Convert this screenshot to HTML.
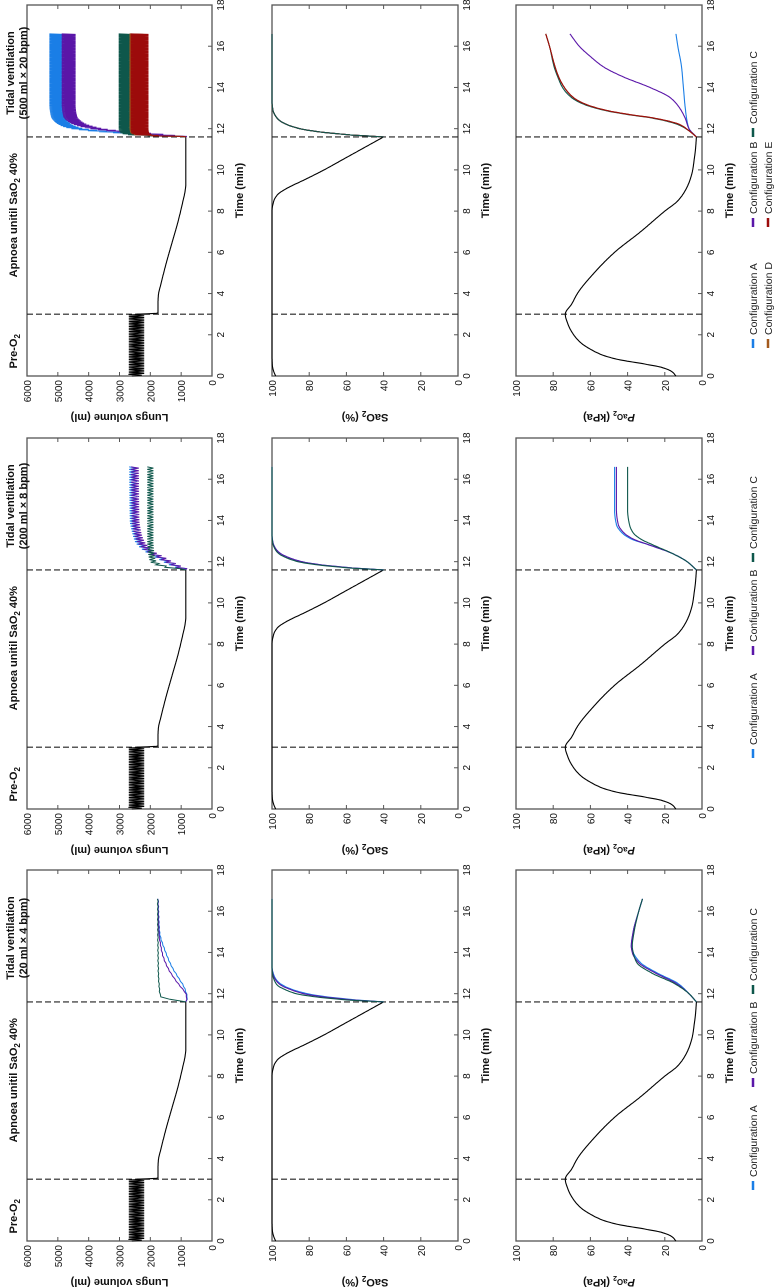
<!DOCTYPE html>
<html><head><meta charset="utf-8">
<style>
html,body{margin:0;padding:0;background:#fff;}
svg{display:block;font-family:"Liberation Sans",sans-serif;}
</style></head>
<body>
<svg id="fig" width="775" height="1287" viewBox="0 0 775 1287" xmlns="http://www.w3.org/2000/svg"></svg>
<script>
// ---- data ----
const bandTitles = [["Tidal ventilation","(500 ml × 20 bpm)"],["Tidal ventilation","(200 ml × 8 bpm)"],["Tidal ventilation","(20 ml × 4 bpm)"]];
const timeTicks = [0,2,4,6,8,10,12,14,16,18];
const volTicks = [0,1000,2000,3000,4000,5000,6000];
const pctTicks = [0,20,40,60,80,100];
const phaseLines = [3,11.6];
const configNames = ["Configuration A","Configuration B","Configuration C","Configuration D","Configuration E"];
const configColors = ["#1a7ee6","#5a16a8","#0e574b","#a3591c","#9c0b0b"];

// lungs volume, pre-O2 breathing
const preT = [0,0.1,3.0];
const preMid = [2600,2450,2450];
const preTidal = 500;
const prePeriod = 0.08;
// apnoea
const apT = [3.0,3.05,3.6,3.9,4.5,5.5,6.5,7.5,8.5,9.0,9.3,11.6];
const apV = [2450,1750,1750,1740,1650,1480,1290,1100,940,870,850,850];

// recovery lungs volume per band
const volTopT = [11.6,11.75,11.9,12.05,12.3,12.6,13.2,16.6];
const volTopA = [850,2500,3800,4500,4850,5000,5050,5050];
const volTopB = [850,2000,3200,3900,4400,4600,4650,4650];
const volTopCT = [11.6,11.7,11.8,12.0,16.6];
const volTopC = [850,2500,2750,2800,2800];
const volTopD = [850,2300,2420,2450,2450];
const volTopE = [850,2200,2330,2350,2350];
const volTopTidal = [450,450,450,450,580];

const volMidT = [11.6,11.8,12.2,12.6,13.0,13.5,14,16.6];
const volMidA = [850,1200,1700,2150,2380,2480,2540,2560];
const volMidB = [850,1150,1650,2100,2320,2430,2480,2500];
const volMidCT = [11.6,11.75,12.0,12.3,13,16.6];
const volMidC = [850,1500,1900,1960,2000,2000];
const volMidTidal = [250,250,200];

const volBotT = [11.6,11.8,12.0,12.3,12.8,13.3,14,15,16.6];
const volBotA = [850,800,830,900,1100,1300,1500,1700,1750];
const volBotB = [850,820,850,1000,1250,1450,1620,1720,1750];
const volBotCT = [11.6,11.75,11.85,12.0,12.5,13,14,15,16.6];
const volBotC = [850,1450,1650,1690,1720,1740,1750,1755,1760];

// SaO2
const saT = [0,0.2,0.5,1,8,8.5,8.8,9.0,9.2,9.5,10,10.5,11,11.6];
const saV = [98,99,99.8,100,100,99,97,94,90,83,72,62,52,40];
const saRT = [11.6,11.7,11.8,11.9,12.0,12.2,12.4,12.6,12.9,13.3,16.6];
const saTop = [40,58,70,79,85,92,96,98,99.5,100,100];
const saMidA = [40,57,69,78,84,91,95.5,97.8,99.4,100,100];
const saMidC = [40,59,71,80,86,92.5,96.5,98.3,99.6,100,100];
const saBotA = [40,55,66,75,81,89,94,97,99,100,100];
const saBotB = [40,57,68,77,83,90,95,97.5,99.3,100,100];
const saBotC = [40,60,72,81,87,93,97,98.5,99.6,100,100];

// PaO2
const paT = [0,0.2,0.4,0.6,0.8,1.0,1.3,1.6,2,2.5,3,3.5,4,5,6,7,8,8.5,9,9.5,10,10.5,11,11.6];
const paV = [14,16,21,32,45,53,60,65,69,72,73.5,70,67,58,47,33,20,13,9,6.5,5,4.2,3.5,3];
const paTopFT = [11.6,11.9,12.2,12.5,12.7,12.9,13.2,13.5,14,14.5,15,16,16.6];
const paTopC = [3,7,13,26,41,53,64,70,75,77.5,79.5,82,84];
const paTopDE = [3,7,12,25,40,52,63,69,74,77,79,82,84];
const paTopAT = [11.6,12,13,14,15,16,16.6];
const paTopA = [3,7,9,10,11,13,14];
const paTopBT = [11.6,12,12.5,13,13.5,14,14.5,15,15.5,16,16.6];
const paTopB = [3,7,9,12,17,28,42,53,60,66,71];
const paMidT = [11.6,12,12.4,12.8,13.1,13.4,13.8,14.5,15.5,16.6];
const paMidA = [3,8,16,28,38,43,46,47,47,47];
const paMidB = [3,8,16,28,37,42,45,46,46,46];
const paMidC = [3,8,16,26,33,37,39,40,40,40];
const paBotT = [11.6,12,12.5,13,13.5,14,14.3,15,16,16.6];
const paBotA = [3,7,13,24,33,37,38,37,34,32];
const paBotB = [3,7,14,25,34,37.5,38,37,34,32];
const paBotC = [3,7,15,27,35,37,37.5,36.5,34,32];

// ---- layout ----
const NS="http://www.w3.org/2000/svg";
const svg=document.getElementById('fig');
const bandY=[5,438,870], H=371;
const panels=[{xl:27,xr:212,max:6000,ticks:volTicks},{xl:272,xr:458,max:100,ticks:pctTicks},{xl:516,xr:702,max:100,ticks:pctTicks}];
function mk(tag,attrs,parent){const e=document.createElementNS(NS,tag);for(const k in attrs)e.setAttribute(k,attrs[k]);(parent||svg).appendChild(e);return e;}
function sy(b,t){return bandY[b]+(18-t)/18*H;}
function sx(p,v){const P=panels[p];return P.xl+(P.max-v)/P.max*(P.xr-P.xl);}
// monotone cubic interpolation
function interp(T,V,t){
  const n=T.length;
  if(t<=T[0])return V[0];
  if(t>=T[n-1])return V[n-1];
  let i=1;while(t>T[i])i++;
  const d=[];for(let k=0;k<n-1;k++)d.push((V[k+1]-V[k])/(T[k+1]-T[k]));
  function m(k){if(k===0)return d[0];if(k===n-1)return d[n-2];if(d[k-1]*d[k]<=0)return 0;const w1=2*(T[k+1]-T[k])+(T[k]-T[k-1]),w2=(T[k+1]-T[k])+2*(T[k]-T[k-1]);return (w1+w2)/(w1/d[k-1]+w2/d[k]);}
  const h=T[i]-T[i-1],s=(t-T[i-1])/h;
  const h00=2*s*s*s-3*s*s+1,h10=s*s*s-2*s*s+s,h01=-2*s*s*s+3*s*s,h11=s*s*s-s*s;
  return h00*V[i-1]+h10*h*m(i-1)+h01*V[i]+h11*h*m(i);
}
function lineFrom(b,p,T,V,color,name,w){
  const pts=[];for(let t=T[0];t<=T[T.length-1]+1e-9;t+=0.02){pts.push(sx(p,interp(T,V,t)).toFixed(1)+","+sy(b,t).toFixed(1));}
  const e=mk('polyline',{points:pts.join(' '),fill:'none',stroke:color,'stroke-width':w||1.1});
  
  
}
function zig(b,T,V,tidal,period,color,name){
  const pts=[];let s=1;
  for(let t=T[0];t<=T[T.length-1]+1e-9;t+=period/2){const m=interp(T,V,t);const v=t===T[0]?m:m+s*tidal/2;pts.push(sx(0,v).toFixed(1)+","+sy(b,t).toFixed(1));s=-s;}
  const e=mk('polyline',{points:pts.join(' '),fill:'none',stroke:color,'stroke-width':1});
  
  
}
function rtext(x,y,str,opts,rot){
  const g=mk('text',Object.assign({x:x,y:y,transform:`rotate(${rot===undefined?-90:rot} ${x} ${y})`,'font-size':10,fill:'#111'},opts||{}));
  g.textContent=str;return g;
}

for(let b=0;b<3;b++){
  for(let p=0;p<3;p++){
    const P=panels[p], y0=bandY[b], y1=y0+H;
    const fr=mk('rect',{x:P.xl,y:y0,width:P.xr-P.xl,height:H,fill:'none',stroke:'#555','stroke-width':1.3});
    
    
    timeTicks.forEach(t=>{const y=sy(b,t);
      mk('line',{x1:P.xr-4,x2:P.xr,y1:y,y2:y,stroke:'#555'});
      const l=rtext(P.xr+12,y,String(t),{'text-anchor':'middle'});
      
      });
    P.ticks.forEach(v=>{const x=sx(p,v);
      mk('line',{x1:x,x2:x,y1:y1-4,y2:y1,stroke:'#555'});
      mk('line',{x1:x,x2:x,y1:y0,y2:y0+4,stroke:'#555'});
      const l=rtext(x+4,y1+4,String(v),{'text-anchor':'end'});
      
      });
    const tt=rtext(P.xr+31,y0+H/2,'Time (min)',{'text-anchor':'middle','font-weight':'bold','font-size':11});
    
    
    phaseLines.forEach(t=>{const y=sy(b,t);const d=mk('line',{x1:P.xl,x2:P.xr,y1:y,y2:y,stroke:'#222','stroke-width':1.1,'stroke-dasharray':'6,3'});
      
      });
    const cx=(P.xl+P.xr)/2;
    const yt=mk('text',{x:cx,y:y1+38,transform:`rotate(180 ${cx} ${y1+38})`,'text-anchor':'middle','font-size':11,'font-weight':'bold',fill:'#111'});
    if(p===0){yt.textContent='Lungs volume (ml)';}
    else if(p===1){yt.innerHTML='SaO<tspan font-size="8" dy="3">2</tspan><tspan dy="-3"> (%)</tspan>';}
    else{yt.innerHTML='<tspan font-style="italic">P</tspan><tspan font-size="8">aO</tspan><tspan font-size="7" dy="3">2</tspan><tspan dy="-3"> (kPa)</tspan>';}
    
    
  }
  const a=mk('text',{x:17,y:sy(b,1.2),transform:`rotate(-90 17 ${sy(b,1.2)})`,'text-anchor':'middle','font-size':11,'font-weight':'bold',fill:'#111'});
  a.innerHTML='Pre-O<tspan font-size="8" dy="3">2</tspan>';
  
  
  const ap=mk('text',{x:17,y:sy(b,7.8),transform:`rotate(-90 17 ${sy(b,7.8)})`,'text-anchor':'middle','font-size':11,'font-weight':'bold',fill:'#111'});
  ap.innerHTML='Apnoea unitil SaO<tspan font-size="8" dy="3">2</tspan><tspan dy="-3"> 40%</tspan>';
  
  
  const t1=rtext(14,sy(b,14.7),bandTitles[b][0],{'text-anchor':'middle','font-size':11,'font-weight':'bold'});
  
  
  const t2=rtext(27,sy(b,14.7),bandTitles[b][1],{'text-anchor':'middle','font-size':11,'font-weight':'bold'});
  
  

  zig(b,preT,preMid,preTidal,prePeriod,'#000','lungs-volume-preoxygenation');
  lineFrom(b,0,apT,apV,'#000','lungs-volume-apnoea');
  lineFrom(b,1,saT,saV,'#000','sao2-baseline');
  lineFrom(b,2,paT,paV,'#000','pao2-baseline');
}
const C=configColors;
zig(0,volTopT,volTopA,volTopTidal[0],0.05,C[0],'lungs-volume-config-a');
zig(0,volTopT,volTopB,volTopTidal[1],0.05,C[1],'lungs-volume-config-b');
zig(0,volTopCT,volTopC,volTopTidal[2],0.05,C[2],'lungs-volume-config-c');
zig(0,volTopCT,volTopD,volTopTidal[3],0.05,C[3],'lungs-volume-config-d');
zig(0,volTopCT,volTopE,volTopTidal[4],0.05,C[4],'lungs-volume-config-e');
[0,1,3,4,2].forEach(i=>lineFrom(0,1,saRT,saTop,C[i],'sao2-config-'+i));
lineFrom(0,2,paTopAT,paTopA,C[0],'pao2-config-a');
lineFrom(0,2,paTopBT,paTopB,C[1],'pao2-config-b');
lineFrom(0,2,paTopFT,paTopC,C[2],'pao2-config-c');
lineFrom(0,2,paTopFT,paTopDE,C[3],'pao2-config-d');
lineFrom(0,2,paTopFT,paTopDE,C[4],'pao2-config-e');
zig(1,volMidT,volMidA,volMidTidal[0],0.125,C[0],'lungs-volume-config-a');
zig(1,volMidT,volMidB,volMidTidal[1],0.125,C[1],'lungs-volume-config-b');
zig(1,volMidCT,volMidC,volMidTidal[2],0.125,C[2],'lungs-volume-config-c');
lineFrom(1,1,saRT,saMidA,C[0],'sao2-config-a');
lineFrom(1,1,saRT,saMidA,C[1],'sao2-config-b');
lineFrom(1,1,saRT,saMidC,C[2],'sao2-config-c');
lineFrom(1,2,paMidT,paMidA,C[0],'pao2-config-a');
lineFrom(1,2,paMidT,paMidB,C[1],'pao2-config-b');
lineFrom(1,2,paMidT,paMidC,C[2],'pao2-config-c');
zig(2,volBotT,volBotA,20,0.25,C[0],'lungs-volume-config-a');
zig(2,volBotT,volBotB,20,0.25,C[1],'lungs-volume-config-b');
zig(2,volBotCT,volBotC,20,0.25,C[2],'lungs-volume-config-c');
lineFrom(2,1,saRT,saBotA,C[0],'sao2-config-a');
lineFrom(2,1,saRT,saBotB,C[1],'sao2-config-b');
lineFrom(2,1,saRT,saBotC,C[2],'sao2-config-c');
lineFrom(2,2,paBotT,paBotA,C[0],'pao2-config-a');
lineFrom(2,2,paBotT,paBotB,C[1],'pao2-config-b');
lineFrom(2,2,paBotT,paBotC,C[2],'pao2-config-c');

const legendPos=[
  [[753,348],[753,227],[753,137],[768,348],[768,227]],
  [[753,758],[753,655],[753,562]],
  [[753,1190],[753,1087],[753,994]]
];
legendPos.forEach((arr,b)=>arr.forEach((pos,i)=>{
  const [x,y]=pos;
  const g=mk('g',{});
  
  
  mk('line',{x1:x,x2:x,y1:y,y2:y-9,stroke:C[i],'stroke-width':2.5},g);
  const t=mk('text',{x:x+4,y:y-13,transform:`rotate(-90 ${x+4} ${y-13})`,'font-size':10.5,fill:'#222'},g);
  t.textContent=configNames[i];
}));
</script>
</body></html>
